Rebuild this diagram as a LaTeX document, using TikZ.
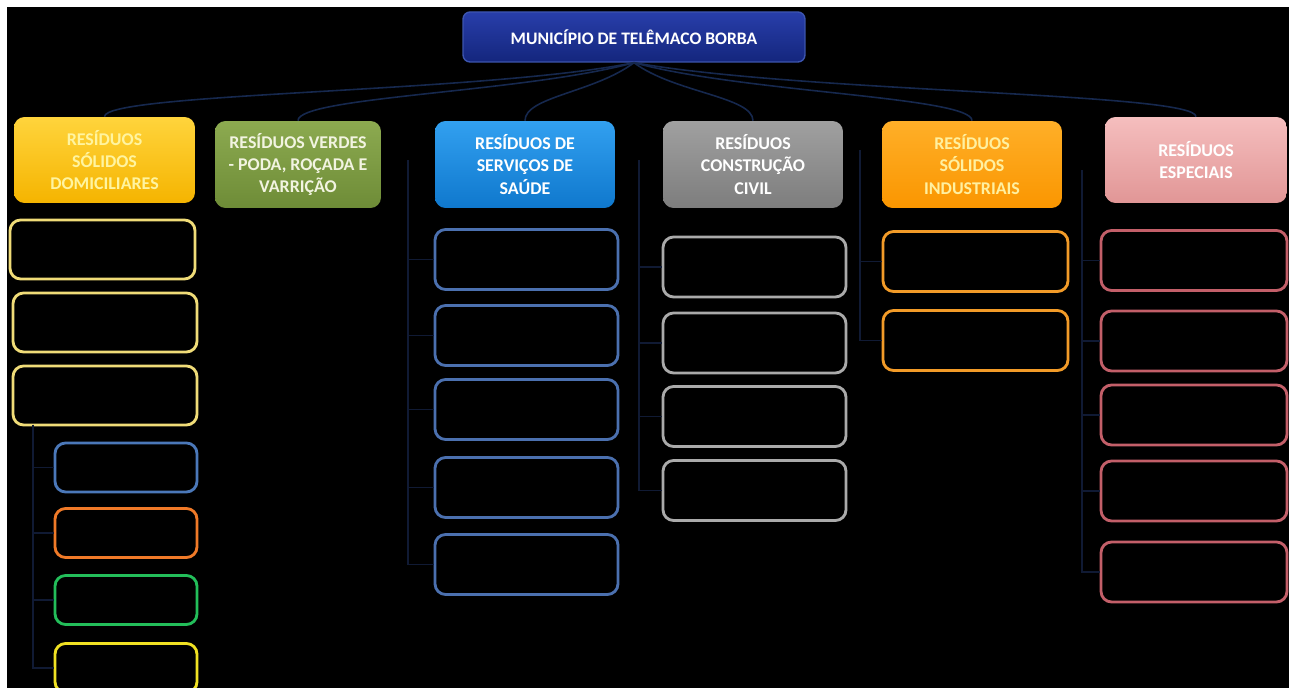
\documentclass[tikz,border=0pt]{standalone}
\usepackage{fontspec}
\setmainfont{Carlito}

\definecolor{headtop}{RGB}{40,62,170}
\definecolor{headbot}{RGB}{20,38,125}
\definecolor{headline}{RGB}{60,85,175}
\definecolor{linkblue}{RGB}{22,40,78}
\definecolor{branchblue}{RGB}{16,26,52}
\definecolor{domtop}{RGB}{255,212,60}
\definecolor{dombot}{RGB}{245,180,0}
\definecolor{domtext}{RGB}{255,244,160}
\definecolor{verdetop}{RGB}{140,170,80}
\definecolor{verdebot}{RGB}{110,140,55}
\definecolor{verdetext}{RGB}{242,244,225}
\definecolor{saudetop}{RGB}{50,160,240}
\definecolor{saudebot}{RGB}{15,120,205}
\definecolor{civiltop}{RGB}{160,160,160}
\definecolor{civilbot}{RGB}{125,125,125}
\definecolor{indtop}{RGB}{255,175,40}
\definecolor{indbot}{RGB}{250,150,0}
\definecolor{indtext}{RGB}{255,240,160}
\definecolor{esptop}{RGB}{245,190,190}
\definecolor{espbot}{RGB}{225,150,150}
\definecolor{domline}{RGB}{240,220,120}
\definecolor{saudeline}{RGB}{75,112,175}
\definecolor{civilline}{RGB}{170,170,170}
\definecolor{indline}{RGB}{242,155,40}
\definecolor{espline}{RGB}{195,95,105}
\definecolor{subblue}{RGB}{75,120,185}
\definecolor{suborange}{RGB}{240,122,40}
\definecolor{subgreen}{RGB}{35,190,90}
\definecolor{subyellow}{RGB}{240,225,35}

\begin{document}
\begin{tikzpicture}[
        x=0.02cm,
        y=-0.02cm,
        head/.style={draw=headline, line width=0.8pt, rounded corners=4pt,
            top color=headtop, bottom color=headbot, text=white,
            font=\bfseries\fontsize{10}{12}\selectfont,
            minimum width=6.84cm, minimum height=1cm},
        cat/.style={rounded corners=6pt, align=center, inner sep=2pt,
            font=\bfseries\fontsize{10.2}{12.6}\selectfont,
            minimum width=3.6cm, minimum height=1.74cm},
        leaf/.style={line width=1.6pt, rounded corners=6pt, fill=black,
            minimum width=3.66cm, minimum height=1.2cm},
        subleaf/.style={leaf, minimum width=2.84cm, minimum height=0.98cm},
        link/.style={draw=linkblue, line width=0.9pt},
        branch/.style={draw=branchblue, line width=0.7pt}
    ]
        \useasboundingbox (0,0) rectangle (1289,688);
        \fill[white] (-5,-5) rectangle (1295,695);
        \fill[black] (7,7) rectangle (1295,695);

        \node[head] (title) at (634,37) {MUNICÍPIO DE TELÊMACO BORBA};

        \node[cat, top color=domtop, bottom color=dombot, text=domtext, minimum width=3.62cm, minimum height=1.72cm]
            (c1) at (104.5,160) {RESÍDUOS\\SÓLIDOS\\DOMICILIARES};
        \node[cat, top color=verdetop, bottom color=verdebot, text=verdetext, minimum width=3.32cm]
            (c2) at (298,164.5) {RESÍDUOS VERDES\\- PODA, ROÇADA E\\VARRIÇÃO};
        \node[cat, top color=saudetop, bottom color=saudebot, text=white]
            (c3) at (525,164.5) {RESÍDUOS DE\\SERVIÇOS DE\\SAÚDE};
        \node[cat, top color=civiltop, bottom color=civilbot, text=white]
            (c4) at (753,164.5) {RESÍDUOS\\CONSTRUÇÃO\\CIVIL};
        \node[cat, top color=indtop, bottom color=indbot, text=indtext]
            (c5) at (972,164.5) {RESÍDUOS\\SÓLIDOS\\INDUSTRIAIS};
        \node[cat, top color=esptop, bottom color=espbot, text=white, minimum width=3.64cm, minimum height=1.72cm]
            (c6) at (1196,160) {RESÍDUOS\\ESPECIAIS};

        \foreach \c/\dx in {c1/-150, c2/-110, c3/-40, c4/40, c5/110, c6/170}
            \draw[link] (title.south) .. controls +(\dx,30) and +(0,-24) .. (\c.north);

        % domiciliares
        \node[leaf, draw=domline, minimum width=3.7cm, minimum height=1.18cm] (d1) at (102.5,249.5) {};
        \node[leaf, draw=domline, minimum width=3.68cm, minimum height=1.18cm] (d2) at (105,322.5) {};
        \node[leaf, draw=domline, minimum width=3.68cm, minimum height=1.18cm] (d3) at (105,395.5) {};
        \coordinate (domtop) at (33,425);
        \foreach \n/\y/\col in {1/467.5/subblue, 2/533/suborange, 3/600/subgreen, 4/668/subyellow}{
            \node[subleaf, draw=\col] (ds\n) at (126,\y) {};
            \draw[branch] (domtop) |- (ds\n.west);
        }

        % saude
        \coordinate (saudetop) at (408,160);
        \foreach \n/\y in {1/259.5, 2/335.5, 3/409.5, 4/487.5, 5/564.5}{
            \node[leaf, draw=saudeline] (s\n) at (526.5,\y) {};
            \draw[branch] (saudetop) |- (s\n.west);
        }

        % construcao civil
        \coordinate (civiltop) at (639,160);
        \foreach \n/\y in {1/267, 2/343, 3/416.5, 4/490.5}{
            \node[leaf, draw=civilline] (cc\n) at (754.5,\y) {};
            \draw[branch] (civiltop) |- (cc\n.west);
        }

        % industriais
        \coordinate (indtop) at (860,150);
        \foreach \n/\y in {1/261.5, 2/340.5}{
            \node[leaf, draw=indline, minimum width=3.7cm] (in\n) at (975.5,\y) {};
            \draw[branch] (indtop) |- (in\n.west);
        }

        % especiais
        \coordinate (esptop) at (1082,170);
        \foreach \n/\y in {1/260.5, 2/341, 3/415, 4/491, 5/572}{
            \node[leaf, draw=espline, minimum width=3.72cm] (e\n) at (1194,\y) {};
            \draw[branch] (esptop) |- (e\n.west);
        }
    \end{tikzpicture}
\end{document}
